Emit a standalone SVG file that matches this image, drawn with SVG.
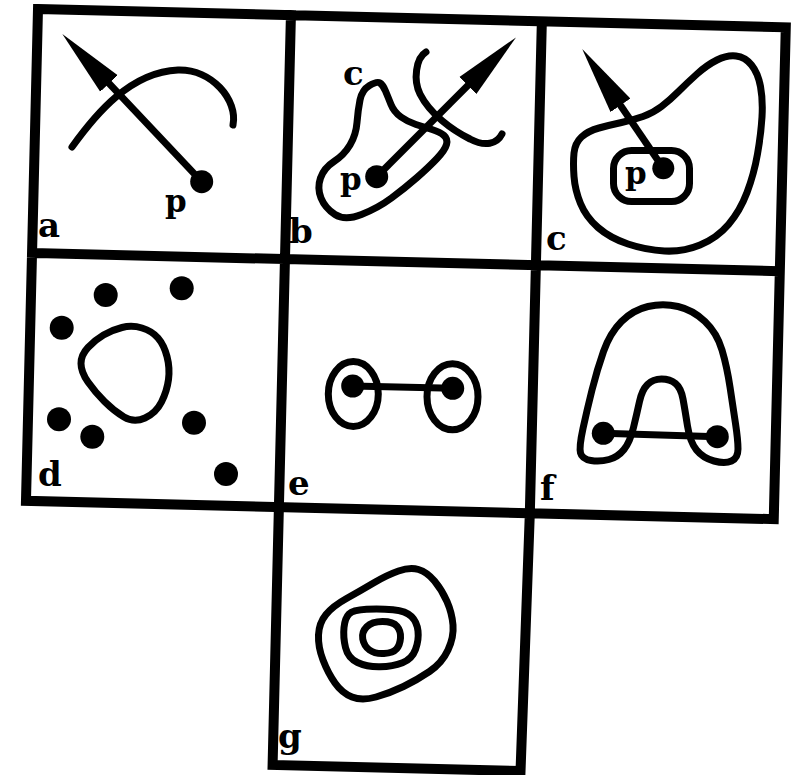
<svg xmlns="http://www.w3.org/2000/svg" width="795" height="775" viewBox="0 0 795 775">
<style>
.frame{fill:none;stroke:#000;stroke-width:10;stroke-linecap:square;stroke-linejoin:miter}
.curve{fill:none;stroke:#000;stroke-width:7;stroke-linecap:round;stroke-linejoin:round}
.shaft{fill:none;stroke:#000;stroke-width:7}
.dot{fill:#000}
.lbl{font-family:"DejaVu Serif","Liberation Serif",serif;font-weight:bold;font-size:34px;fill:#000}
.sm{font-size:31px}
</style>
<defs>
<marker id="ah" markerUnits="userSpaceOnUse" viewBox="0 -13 70 26" markerWidth="70" markerHeight="26" refX="1" refY="0" orient="auto">
<path d="M0,-12 L68,0 L0,12 Z" fill="#000"/>
</marker>
</defs>
<rect width="795" height="775" fill="#fff"/>
<g id="frame" transform="translate(38,9) rotate(1.4)">
<path class="frame" d="M0,0 H748 V492 H0 Z M0,244 H748 M253,0 V750 H501 L504,492 M504,0 V492"/>
</g>
<g id="panel-a">
<path class="curve" d="M72,147 C95,115 130,72 178,70 C212,69 238,100 233,125"/>
<circle class="dot" cx="201.7" cy="181.7" r="11.5"/>
<text class="lbl sm" x="165" y="212">p</text>
<text class="lbl" x="38" y="237">a</text>
</g>
<g id="panel-b">
<path class="curve" d="M380,83 Q377,81 369.5,85.5 Q362,90 360,100 Q358,110 357,122.5 Q356,135 350,145 Q344,155 334,161.5 Q324,168 320.5,178 Q317,188 321,198 Q325,208 335,214.5 Q345,221 361.5,214.5 Q378,208 391.5,198 Q405,188 417,177.5 Q429,167 437,158.5 Q445,150 446.5,144.5 Q448,139 444,135.5 Q440,132 432,129.5 Q424,127 416,124.5 Q408,122 401,117 Q394,112 391,104.5 Q388,97 385.5,91 Q383,85 380,83 Z"/>
<path class="curve" d="M426,52 C416,58 413,80 420,94 C430,114 452,130 470,139 C485,147 497,144 502,134"/>
<circle class="dot" cx="376.7" cy="176.7" r="11.5"/>
<text class="lbl sm" x="340" y="190">p</text>
<text class="lbl" x="343" y="85">c</text>
<text class="lbl" x="289" y="243">b</text>
</g>
<g id="panel-c">
<path class="curve" d="M574,176.5 Q573,163 574,153 Q575,143 581.5,137 Q588,131 599,128 Q610,125 621.5,122.5 Q633,120 643,116.5 Q653,113 661.5,106.5 Q670,100 678.5,91.5 Q687,83 697,74 Q707,65 717,60 Q727,55 736,56 Q745,57 751.5,65 Q758,73 760.5,86.5 Q763,100 762,117 Q761,134 757.5,154 Q754,174 747,192.5 Q740,211 728.5,224.5 Q717,238 700,245 Q683,252 664.5,251 Q646,250 628,244 Q610,238 598,227.5 Q586,217 580.5,203.5 Q575,190 574,176.5 Z"/>
<rect class="curve" x="613.5" y="150.5" width="76" height="51" rx="18"/>
<circle class="dot" cx="663.3" cy="168.3" r="11"/>
<text class="lbl sm" x="625" y="184">p</text>
<text class="lbl" x="546" y="250">c</text>
</g>
<g id="panel-d">
<path class="curve" d="M122,327.5 Q132,325 142,328 Q152,331 158,338 Q164,345 167,356.5 Q170,368 168.5,379.5 Q167,391 161.5,402 Q156,413 145,418 Q134,423 124,417 Q114,411 104.5,401.5 Q95,392 88,382 Q81,372 81,363.5 Q81,355 88,347.5 Q95,340 103.5,335 Q112,330 122,327.5 Z"/>
<circle class="dot" cx="105.7" cy="295" r="12"/>
<circle class="dot" cx="181.7" cy="288.3" r="12"/>
<circle class="dot" cx="61.7" cy="327.7" r="12"/>
<circle class="dot" cx="59" cy="419.3" r="12"/>
<circle class="dot" cx="92.3" cy="436.7" r="12"/>
<circle class="dot" cx="194" cy="422.7" r="12"/>
<circle class="dot" cx="226" cy="474" r="12"/>
<text class="lbl" x="38" y="486">d</text>
</g>
<g id="panel-e">
<ellipse class="curve" cx="353.3" cy="394" rx="25" ry="32.5"/>
<ellipse class="curve" cx="452.5" cy="396.7" rx="25.5" ry="33"/>
<line class="shaft" x1="352.7" y1="386" x2="452.7" y2="388.3" stroke-width="6"/>
<circle class="dot" cx="352.7" cy="386" r="11.5"/>
<circle class="dot" cx="452.7" cy="388.3" r="11.5"/>
<text class="lbl" x="288" y="495">e</text>
</g>
<g id="panel-f">
<path class="curve" d="M678,306.5 Q663,303 648,306.5 Q633,310 621.5,321.5 Q610,333 603.5,351.5 Q597,370 592,390 Q587,410 583,428.5 Q579,447 580.5,453 Q582,459 591,460.5 Q600,462 609,459.5 Q618,457 624,449.5 Q630,442 633.5,427.5 Q637,413 639.5,401.5 Q642,390 647.5,384.5 Q653,379 661.5,379 Q670,379 675.5,383.5 Q681,388 683,399 Q685,410 687.5,426 Q690,442 696.5,450 Q703,458 714,461 Q725,464 731.5,461 Q738,458 738,449 Q738,440 735.5,423.5 Q733,407 730,387 Q727,367 722,350 Q717,333 705,321.5 Q693,310 678,306.5 Z"/>
<line class="shaft" x1="603.3" y1="433.3" x2="717.3" y2="436.7" stroke-width="6"/>
<circle class="dot" cx="603.3" cy="433.3" r="11.5"/>
<circle class="dot" cx="717.3" cy="436.7" r="11.5"/>
<text class="lbl" x="540" y="500">f</text>
</g>
<g id="panel-g">
<path class="curve" d="M398.5,571 Q410,567 418.5,569.5 Q427,572 434.5,581 Q442,590 447,601.5 Q452,613 453,625 Q454,637 448,650 Q442,663 429.5,671.5 Q417,680 403.5,686.5 Q390,693 376,697 Q362,701 352,697 Q342,693 335,683 Q328,673 323,660 Q318,647 318.5,635 Q319,623 326,614.5 Q333,606 346.5,598.5 Q360,591 373.5,583 Q387,575 398.5,571 Z"/>
<path class="curve" d="M349,614 Q353,610 366.5,609.25 Q380,608.5 393,609.75 Q406,611 411.5,616.5 Q417,622 418,631 Q419,640 415.5,649.5 Q412,659 402.5,662.75 Q393,666.5 380,666.75 Q367,667 357.5,662.5 Q348,658 345.5,647.5 Q343,637 344,627.5 Q345,618 349,614 Z"/>
<path class="curve" d="M366.75,626.75 Q372,621.5 382.5,621.5 Q393,621.5 397,626.25 Q401,631 400.5,638 Q400,645 396.5,649 Q393,653 384,653.5 Q375,654 369.5,650 Q364,646 362.75,639 Q361.5,632 366.75,626.75 Z"/>
<text class="lbl" x="278" y="748">g</text>
</g>
<g id="connectors">
<line class="shaft" x1="201.7" y1="181.7" x2="108.3" y2="82.7" marker-end="url(#ah)"/>
<line class="shaft" x1="376.7" y1="176.7" x2="468.6" y2="84.8" marker-end="url(#ah)"/>
<line class="shaft" x1="663.3" y1="168.3" x2="619.9" y2="104.5" marker-end="url(#ah)"/>
</g>
</svg>
